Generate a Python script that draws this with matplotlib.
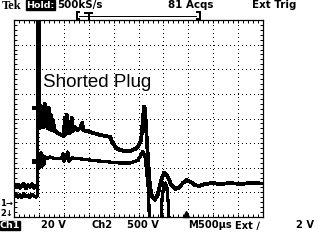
import matplotlib
matplotlib.use("Agg")
from matplotlib import pyplot as plt
from matplotlib.lines import Line2D
from matplotlib.patches import Rectangle
from matplotlib.ticker import MultipleLocator

plt.rcParams["lines.antialiased"] = False

# time in ms (500 us/div), vertical in screen divisions (centre = 0)
ch1_t = [0.00, 0.04, 0.08, 0.12, 0.16, 0.20, 0.24, 0.28, 0.32, 0.36, 0.40, 0.44, 0.47,
         0.47, 0.50, 0.50, 0.52, 0.54, 0.56, 0.58, 0.60, 0.62, 0.64, 0.66, 0.68, 0.70,
         0.72, 0.74, 0.76, 0.78, 0.82, 0.88, 0.96, 1.00, 1.02, 1.04, 1.06, 1.08, 1.10,
         1.12, 1.16, 1.18, 1.22, 1.27, 1.33, 1.37, 1.39, 1.53, 1.73, 1.93, 1.97, 2.05,
         2.13, 2.23, 2.33, 2.43, 2.49, 2.55, 2.58, 2.61, 2.63, 2.65, 2.69, 2.73, 2.77,
         2.83, 2.89, 2.95, 3.01, 3.07, 3.15, 3.23, 3.31, 3.39, 3.47, 3.55, 3.63, 3.71,
         3.84, 3.98, 4.14, 4.34, 4.54, 4.74, 5.00]
ch1_v = [-2.70, -2.80, -2.68, -2.82, -2.72, -2.66, -2.84, -2.70, -2.78, -2.66, -2.82, -2.72, -2.74,
         4.60, 4.60, 0.26, -0.39, 0.51, -0.30, 0.35, -0.35, 0.59, -0.26, 0.26, -0.39, 0.43,
         -0.43, 0.14, -0.47, -0.06, -0.51, -0.59, -0.67, -0.71, 0.02, -0.63, 0.14, -0.59, -0.14,
         -0.59, 0.02, -0.51, -0.35, -0.47, -0.39, -0.18, -0.47, -0.55, -0.67, -0.75, -0.95, -1.20,
         -1.28, -1.32, -1.32, -1.24, -1.12, -0.91, -0.26, 0.47, 0.43, -0.30, -1.60, -2.75, -3.15,
         -3.31, -3.07, -2.54, -2.21, -2.29, -2.66, -2.86, -2.82, -2.62, -2.50, -2.58, -2.70, -2.74,
         -2.66, -2.62, -2.66, -2.62, -2.66, -2.62, -2.64]

ch2_t = [0.00, 0.04, 0.08, 0.12, 0.16, 0.20, 0.24, 0.28, 0.32, 0.36, 0.40, 0.44, 0.47,
         0.48, 0.50, 0.52, 0.54, 0.56, 0.58, 0.60, 0.62, 0.66, 0.72, 0.82, 0.96, 0.98,
         1.00, 1.04, 1.08, 1.10, 1.16, 1.33, 1.53, 1.73, 1.93, 2.13, 2.33, 2.49, 2.55,
         2.59, 2.63, 2.66, 2.70, 2.73, 2.95, 2.97, 3.01, 3.04, 3.07, 3.10, 3.13, 5.00]
ch2_v = [-3.15, -3.07, -3.19, -3.11, -3.21, -3.05, -3.17, -3.11, -3.21, -3.07, -3.15, -3.19, -3.13,
         -1.69, -1.44, -1.97, -1.40, -1.93, -1.52, -1.85, -1.56, -1.64, -1.56, -1.64, -1.60, -1.44,
         -1.73, -1.56, -1.36, -1.73, -1.60, -1.64, -1.69, -1.73, -1.77, -1.81, -1.81, -1.69, -1.48,
         -1.34, -1.52, -2.09, -2.90, -4.90, -4.90, -3.31, -2.66, -2.62, -2.82, -3.51, -4.90, -4.90]

# short blips just before the trigger edge
blip_t = [0.40, 0.46]
blip1_v = [0.43, 0.43]
blip2_v = [-1.73, -1.73]

marker_t = 3.46
label_text = "Shorted Plug"
header = [("500kS/s", 57), ("81 Acqs", 168), ("Ext Trig", 252)]
footer = [("20 V", 41), ("Ch2", 91), ("500 V", 127), ("M500\u00b5s", 188),
          ("Ext \u2215", 235), ("2 V", 296)]

W, H = 320, 240


def fx(px):
    return px / W


def fy(py):
    return 1 - py / H


fig = plt.figure(figsize=(3.2, 2.4), dpi=100)
ax = fig.add_axes([fx(14), fy(217), 249 / W, 197 / H])
ax.set_xlim(0, 5)
ax.set_ylim(-4, 4)
ax.xaxis.set_major_locator(MultipleLocator(0.5))
ax.xaxis.set_minor_locator(MultipleLocator(0.1))
ax.yaxis.set_major_locator(MultipleLocator(1))
ax.yaxis.set_minor_locator(MultipleLocator(0.2))
ax.tick_params(which="both", direction="in", top=True, right=True,
               labelbottom=False, labelleft=False, length=2.2, width=0.72,
               color="black")
ax.grid(True, which="major", color="black", linestyle=(0, (1, 4)), linewidth=0.72)
for s in ax.spines.values():
    s.set_linewidth(0.9)
    s.set_color("black")

ax.plot(ch1_t, ch1_v, color="black", lw=2.0)
ax.plot(ch2_t, ch2_v, color="black", lw=1.6)
ax.plot(blip_t, blip1_v, color="black", lw=1.6)
ax.plot(blip_t, blip2_v, color="black", lw=2.5)
ax.plot([marker_t], [-3.88], marker="^", ms=5, color="black", clip_on=False)

ax.text(0.576, 1.28, label_text, fontsize=13.5, family="Liberation Sans",
        va="baseline", ha="left")

# header row
fig.text(fx(2), fy(9), "Tek", family="Liberation Serif", weight="bold",
         fontsize=9, va="baseline", ha="left")
fig.add_artist(Rectangle((fx(26), fy(10)), 29 / W, 10 / H, color="black"))
fig.text(fx(40.5), fy(5), "Hold:", family="DejaVu Sans", weight="bold",
         fontsize=6.8, va="center", ha="center", color="white")
for txt, x in header:
    fig.text(fx(x), fy(5), txt, family="DejaVu Sans", weight="bold",
             fontsize=7.4, va="center", ha="left")

# record view bracket
kw = dict(color="black", lw=1.2)
fig.add_artist(Line2D([fx(76.5), fx(76.5)], [fy(12), fy(18.5)], **kw))
fig.add_artist(Line2D([fx(76.5), fx(79)], [fy(12), fy(12)], **kw))
fig.add_artist(Line2D([fx(76.5), fx(79)], [fy(18.5), fy(18.5)], **kw))
fig.add_artist(Line2D([fx(199.5), fx(199.5)], [fy(12), fy(18.5)], **kw))
fig.add_artist(Line2D([fx(197), fx(199.5)], [fy(12), fy(12)], **kw))
fig.add_artist(Line2D([fx(197), fx(199.5)], [fy(18.5), fy(18.5)], **kw))
fig.add_artist(Line2D([fx(79), fx(197)], [fy(15.5), fy(15.5)], color="black",
                      lw=0.72, linestyle=(0, (1, 1))))
fig.add_artist(Line2D([fx(85), fx(92)], [fy(12.5), fy(12.5)], **kw))
fig.add_artist(Line2D([fx(88.5), fx(88.5)], [fy(12.5), fy(18.5)], **kw))

# footer row
fig.add_artist(Rectangle((fx(0), fy(229.5)), 20 / W, 9 / H, color="black"))
fig.text(fx(10), fy(225.5), "Ch1", family="DejaVu Sans", weight="bold",
         fontsize=6.8, va="center", ha="center", color="white")
for txt, x in footer:
    fig.text(fx(x), fy(225.5), txt, family="DejaVu Sans", weight="bold",
             fontsize=7.1, va="center", ha="left")

# channel ground markers
fig.text(fx(0), fy(203), "1\u2192", family="DejaVu Sans", weight="bold",
         fontsize=6, va="center", ha="left")
fig.text(fx(0), fy(213), "2\u2193", family="DejaVu Sans", weight="bold",
         fontsize=6, va="center", ha="left")

fig.savefig("out.png", dpi=100)
